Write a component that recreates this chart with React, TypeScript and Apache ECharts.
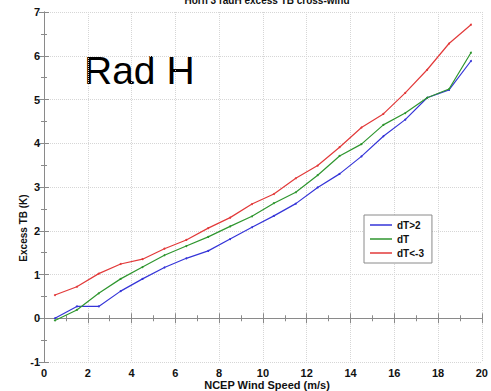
import React, { useEffect, useRef } from "react";
import * as echarts from "echarts";

const windSpeed = [0.5, 1.5, 2.5, 3.5, 4.5, 5.5, 6.5, 7.5, 8.5, 9.5, 10.5, 11.5, 12.5, 13.5, 14.5, 15.5, 16.5, 17.5, 18.5, 19.5];
const dTgt2 = [0.0, 0.27, 0.27, 0.62, 0.9, 1.16, 1.37, 1.54, 1.81, 2.08, 2.34, 2.62, 2.99, 3.3, 3.7, 4.16, 4.54, 5.04, 5.22, 5.88];
const dT = [-0.05, 0.19, 0.57, 0.9, 1.17, 1.44, 1.65, 1.86, 2.1, 2.33, 2.63, 2.88, 3.27, 3.71, 3.98, 4.42, 4.69, 5.04, 5.24, 6.07];
const dTlt3 = [0.53, 0.72, 1.02, 1.24, 1.35, 1.59, 1.79, 2.06, 2.3, 2.61, 2.84, 3.2, 3.49, 3.91, 4.36, 4.67, 5.15, 5.68, 6.28, 6.71];
const seriesNames = ["dT>2", "dT", "dT<-3"];
const seriesColors = ["#3535d8", "#2f962f", "#e23a3a"];

const FONT = "'Liberation Sans', Arial, sans-serif";

export default function App() {
  const ref = useRef<HTMLDivElement>(null);
  useEffect(() => {
    if (!ref.current) return;
    const chart = echarts.init(ref.current, null, { renderer: "svg" });
    const allData = [dTgt2, dT, dTlt3];
    const axisLine = { show: true, lineStyle: { color: "#8a8a8a", width: 1 } };
    const tick = { show: true, inside: true, length: 5, lineStyle: { color: "#8a8a8a" } };
    const minorTick = { show: true, splitNumber: 2, length: 3, lineStyle: { color: "#8a8a8a" } };
    const split = { show: true, lineStyle: { color: "#d6d6d6", type: "dotted" as const, width: 1 } };
    const label = { fontFamily: FONT, fontWeight: "bold" as const, fontSize: 11, color: "#111" };
    chart.setOption({
      animation: false,
      grid: { left: 44, right: 3, top: 12, bottom: 29, containLabel: false },
      xAxis: [
        {
          type: "value", min: 0, max: 20, interval: 2, position: "bottom",
          axisLine, axisTick: tick, minorTick, splitLine: split,
          axisLabel: { ...label, margin: 5 },
        },
        {
          type: "value", min: 0, max: 20, interval: 2, position: "top",
          axisLine, axisTick: tick, minorTick, splitLine: { show: false }, axisLabel: { show: false },
        },
      ],
      yAxis: [
        {
          type: "value", min: -1, max: 7, interval: 1, position: "left",
          axisLine, axisTick: tick, minorTick, splitLine: split,
          axisLabel: { ...label, margin: 4 },
        },
        {
          type: "value", min: -1, max: 7, interval: 1, position: "right",
          axisLine, axisTick: tick, minorTick, splitLine: { show: false }, axisLabel: { show: false },
        },
      ],
      legend: {
        orient: "vertical",
        left: 364, top: 215,
        padding: [4, 8, 4, 6],
        itemGap: 2,
        itemWidth: 22,
        itemHeight: 1.5,
        icon: "rect",
        backgroundColor: "#fff",
        borderColor: "#8a8a8a",
        borderWidth: 1,
        borderRadius: 0,
        textStyle: { fontFamily: FONT, fontWeight: "bold", fontSize: 10, color: "#111", lineHeight: 12 },
        data: seriesNames,
      },
      series: seriesNames.map((name, i) => ({
        name,
        type: "line",
        data: windSpeed.map((x, j) => [x, allData[i][j]]),
        symbol: "circle",
        symbolSize: 2,
        lineStyle: { color: seriesColors[i], width: 1.2 },
        itemStyle: { color: seriesColors[i] },
        z: 3 + i,
      })),
      graphic: [
        {
          type: "text", x: 267, y: -5,
          style: { text: "Horn 3 radH excess TB cross-wind", font: `bold 10px ${FONT}`, fill: "#111", align: "center", verticalAlign: "top" },
        },
        {
          type: "text", x: 84, y: 70,
          style: { text: "Rad H", font: `39px ${FONT}`, fill: "#000", align: "left", verticalAlign: "middle" },
        },
        {
          type: "text", x: 23, y: 228, rotation: Math.PI / 2,
          style: { text: "Excess TB (K)", font: `bold 10px ${FONT}`, fill: "#111", align: "center", verticalAlign: "middle" },
        },
        {
          type: "text", x: 267, y: 385,
          style: { text: "NCEP Wind Speed (m/s)", font: `bold 11px ${FONT}`, fill: "#111", align: "center", verticalAlign: "middle" },
        },
      ],
    });
    return () => chart.dispose();
  }, []);
  return (
    <div
      ref={ref}
      style={{ position: "fixed", left: 0, top: 0, width: 491, height: 391, background: "#fff" }}
    />
  );
}
